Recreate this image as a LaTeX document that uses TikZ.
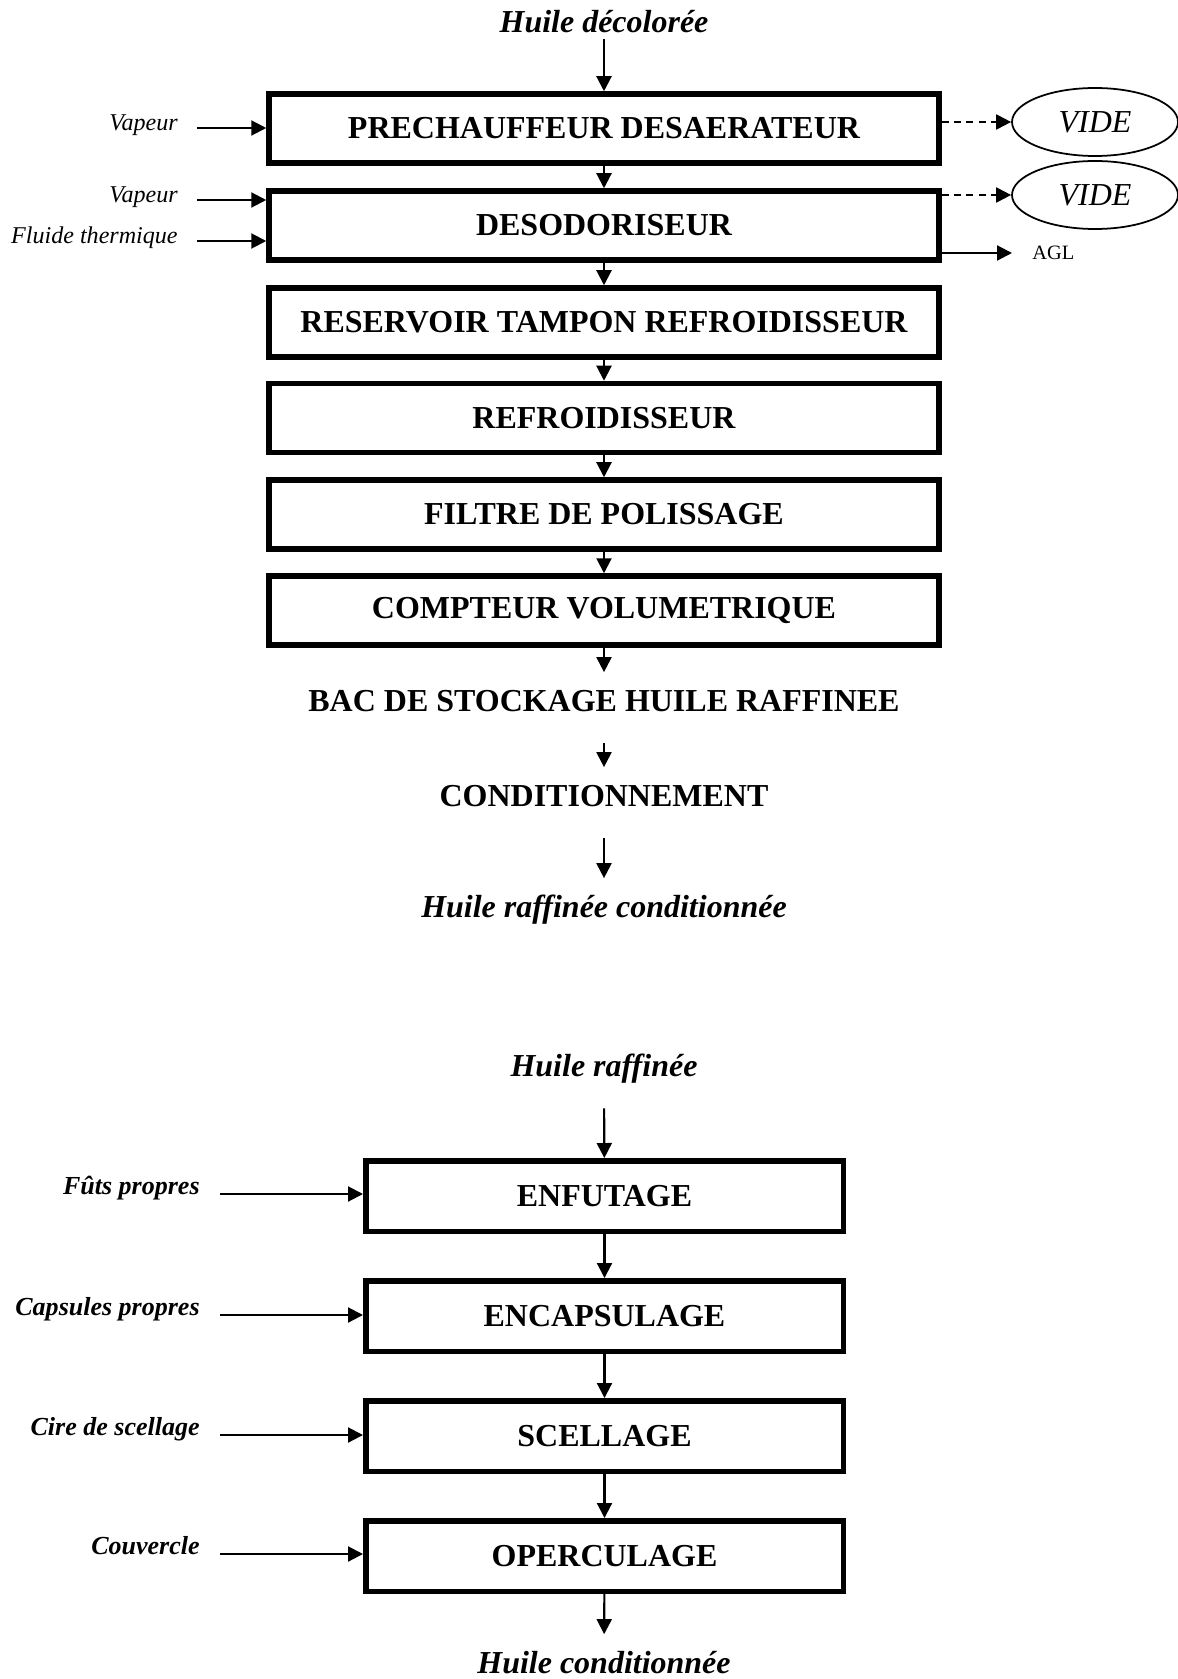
\documentclass[tikz,border=0pt]{standalone}
\usepackage{fontspec}
\setmainfont{Liberation Serif}
\usetikzlibrary{arrows.meta,shapes.geometric}

\begin{document}
\begin{tikzpicture}[
    etape/.style={draw, line width=0.11cm, minimum width=13.4cm, minimum height=1.38cm, inner sep=0pt, font=\fontsize{18.2}{22}\selectfont\bfseries},
    etapeb/.style={etape, minimum width=9.55cm, minimum height=1.41cm},
    flux/.style={inner sep=0pt, anchor=base, text height=0.77cm, text depth=0.64cm, font=\fontsize{18.2}{22}\selectfont\bfseries},
    fluxi/.style={flux, font=\fontsize{18.2}{22}\selectfont\bfseries\itshape},
    entree/.style={anchor=east, inner ysep=0pt, inner xsep=0.38cm, text height=0.34cm, text depth=0.24cm, font=\fontsize{13.7}{16}\selectfont\itshape},
    entreeb/.style={entree, inner xsep=0.4cm, text height=0.3cm, text depth=0.3cm, font=\fontsize{14.8}{17}\selectfont\bfseries\itshape},
    vide/.style={draw, ellipse, line width=1pt, minimum width=3.32cm, minimum height=1.36cm, inner sep=0pt, font=\fontsize{18.2}{22}\selectfont\itshape},
    arrow/.style={-{Triangle[length=0.3cm, width=0.3cm]}, line width=1.2pt},
    dasharrow/.style={arrow, dash pattern=on 4pt off 3pt}
]
    \useasboundingbox (0,0) rectangle (23.54,-33.58);

    % raffinage
    \node[fluxi, text depth=0.12cm] (hd) at (12.08,-0.66) {Huile décolorée};
    \node[etape] (e1) at (12.08,-2.57) {PRECHAUFFEUR DESAERATEUR};
    \node[etape] (e2) at (12.08,-4.51) {DESODORISEUR};
    \node[etape] (e3) at (12.08,-6.45) {RESERVOIR TAMPON REFROIDISSEUR};
    \node[etape] (e4) at (12.08,-8.36) {REFROIDISSEUR};
    \node[etape] (e5) at (12.08,-10.29) {FILTRE DE POLISSAGE};
    \node[etape] (e6) at (12.08,-12.21) {COMPTEUR VOLUMETRIQUE};
    \node[flux] (bac) at (12.08,-14.22) {BAC DE STOCKAGE HUILE RAFFINEE};
    \node[flux] (cond) at (12.08,-16.12) {CONDITIONNEMENT};
    \node[fluxi] (hrc) at (12.08,-18.34) {Huile raffinée conditionnée};

    \node[entree] (v1) at (3.94,-2.56) {Vapeur};
    \node[entree] (v2) at (3.94,-4.00) {Vapeur};
    \node[entree] (ft) at (3.94,-4.82) {Fluide thermique};

    \node[vide] (vd1) at (21.9,-2.44) {VIDE};
    \node[vide] (vd2) at (21.9,-3.90) {VIDE};
    \node[anchor=west, inner xsep=0.4cm, font=\fontsize{11.6}{14}\selectfont] (agl) at (20.24,-5.06) {AGL};

    \draw[arrow] (hd) -- (e1);
    \draw[arrow] (e1) -- (e2);
    \draw[arrow] (e2) -- (e3);
    \draw[arrow] (e3) -- (e4);
    \draw[arrow] (e4) -- (e5);
    \draw[arrow] (e5) -- (e6);
    \draw[arrow] (e6) -- (bac);
    \draw[arrow] (bac) -- (cond);
    \draw[arrow] (cond) -- (hrc);

    \draw[arrow] (v1) -- (v1 -| e1.west);
    \draw[arrow] (v2) -- (v2 -| e2.west);
    \draw[arrow] (ft) -- (ft -| e2.west);
    \draw[dasharrow] (vd1 -| e1.east) -- (vd1);
    \draw[dasharrow] (vd2 -| e2.east) -- (vd2);
    \draw[arrow] (agl -| e2.east) -- (agl);

    % conditionnement
    \node[fluxi] (hr) at (12.08,-21.52) {Huile raffinée};
    \node[etapeb] (c1) at (12.09,-23.92) {ENFUTAGE};
    \node[etapeb] (c2) at (12.09,-26.32) {ENCAPSULAGE};
    \node[etapeb] (c3) at (12.09,-28.72) {SCELLAGE};
    \node[etapeb] (c4) at (12.09,-31.12) {OPERCULAGE};
    \node[fluxi] (hc) at (12.08,-33.46) {Huile conditionnée};

    \node[entreeb] (i1) at (4.40,-23.88) {Fûts propres};
    \node[entreeb] (i2) at (4.40,-26.30) {Capsules propres};
    \node[entreeb] (i3) at (4.40,-28.70) {Cire de scellage};
    \node[entreeb] (i4) at (4.40,-31.08) {Couvercle};

    \draw[arrow] (hr) -- (c1);
    \draw[arrow] (c1) -- (c2);
    \draw[arrow] (c2) -- (c3);
    \draw[arrow] (c3) -- (c4);
    \draw[arrow] (c4) -- (hc);

    \draw[arrow] (i1) -- (i1 -| c1.west);
    \draw[arrow] (i2) -- (i2 -| c2.west);
    \draw[arrow] (i3) -- (i3 -| c3.west);
    \draw[arrow] (i4) -- (i4 -| c4.west);
\end{tikzpicture}
\end{document}
